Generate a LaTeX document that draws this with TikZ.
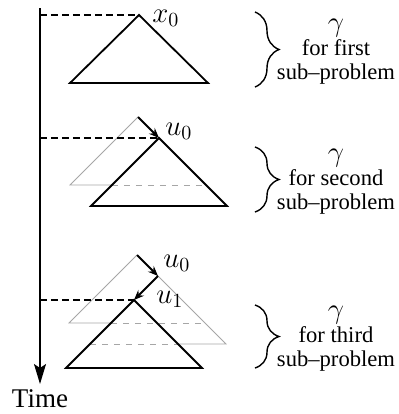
\documentclass[tikz,border=0pt]{standalone}
\usepackage{fontspec}
\setmainfont{Liberation Serif}
\usetikzlibrary{arrows.meta,calc,decorations.pathreplacing}

\begin{document}
\begin{tikzpicture}[
    x=0.5pt, y=-0.5pt,
    axis/.style={line width=0.8pt,-{Stealth[length=10pt,width=6pt,inset=2pt]}},
    guide/.style={line width=0.8pt,dash pattern=on 3.5pt off 2pt},
    tri/.style={line width=0.9pt,line join=miter},
    ghost/.style={line width=0.4pt,gray!70},
    ghostdash/.style={ghost,dash pattern=on 3pt off 3pt},
    move/.style={line width=0.9pt,-{Stealth[length=5pt,width=4pt]}},
    brc/.style={decorate,decoration={brace,amplitude=12pt},line width=0.7pt},
    lbl/.style={align=center,inner sep=0pt,font=\fontsize{11.3}{12}\selectfont},
    mlbl/.style={inner sep=0pt,anchor=west,font=\fontsize{14.4}{17}\selectfont}
  ]
  \useasboundingbox (0,0) rectangle (398,414);
  % Time axis
  \coordinate (top) at (40,8);
  \coordinate (bot) at (40,384);
  \draw[axis] (top) -- (bot);
  \node[inner sep=0pt,font=\fontsize{13.5}{15}\selectfont] (time) at (40,399) {Time};
  % Apexes
  \coordinate (a1) at (139,15);
  \coordinate (g2) at (138,117);
  \coordinate (a2) at (159,138);
  \coordinate (g3) at (137,255);
  \coordinate (h3) at (158,276);
  \coordinate (a3) at (134,300);
  % First sub-problem
  \draw[guide] (top |- a1) -- (a1);
  \draw[tri] (a1) -- ++(69,68) -- ++(-138,0) -- cycle;
  \node[mlbl] (x0) at ($(a1)+(13,3)$) {$x_0$};
  % Second sub-problem
  \draw[ghost] ($(g2)+(68,68)$) -- (g2) -- ++(-68,68) -- ++(42,0);
  \draw[ghostdash] ($(g2)+(-26,68)$) -- ++(94,0);
  \draw[guide] (top |- a2) -- (a2);
  \draw[tri] (a2) -- ++(68,68) -- ++(-136,0) -- cycle;
  \draw[move] (g2) -- (a2);
  \node[mlbl] (u0a) at ($(a2)+(6,-7)$) {$u_0$};
  % Third sub-problem
  \draw[ghost] (g3) -- ++(-68,68) -- ++(42,0);
  \draw[ghostdash] ($(g3)+(-26,68)$) -- ++(94,0);
  \draw[ghost] ($(h3)+(-68,68)$) -- (h3) -- ++(68,68) -- ++(-48,0);
  \draw[ghostdash] ($(h3)+(-68,68)$) -- ++(88,0);
  \draw[guide] (top |- a3) -- (a3);
  \draw[tri] (a3) -- ++(68,68) -- ++(-136,0) -- cycle;
  \draw[move] (g3) -- (h3);
  \draw[move] (h3) -- (a3);
  \node[mlbl] (u0b) at ($(h3)+(5,-13)$) {$u_0$};
  \node[mlbl] (u1) at ($(a3)+(22,-1)$) {$u_1$};
  % Braces
  \foreach \n/\ya/\yb/\wrd in {1/12/87/first, 2/147/212/second, 3/305/368/third} {
    \coordinate (bt\n) at (255,\ya);
    \coordinate (bb\n) at (255,\yb);
    \draw[brc] (bt\n) -- (bb\n);
    \node[lbl] (cap\n) at ($(bt\n)!0.5!(bb\n)+(81,2)$)
      {{\fontsize{14.4}{14}\selectfont$\gamma$}\\for \wrd\\sub--problem};
  }
\end{tikzpicture}
\end{document}
